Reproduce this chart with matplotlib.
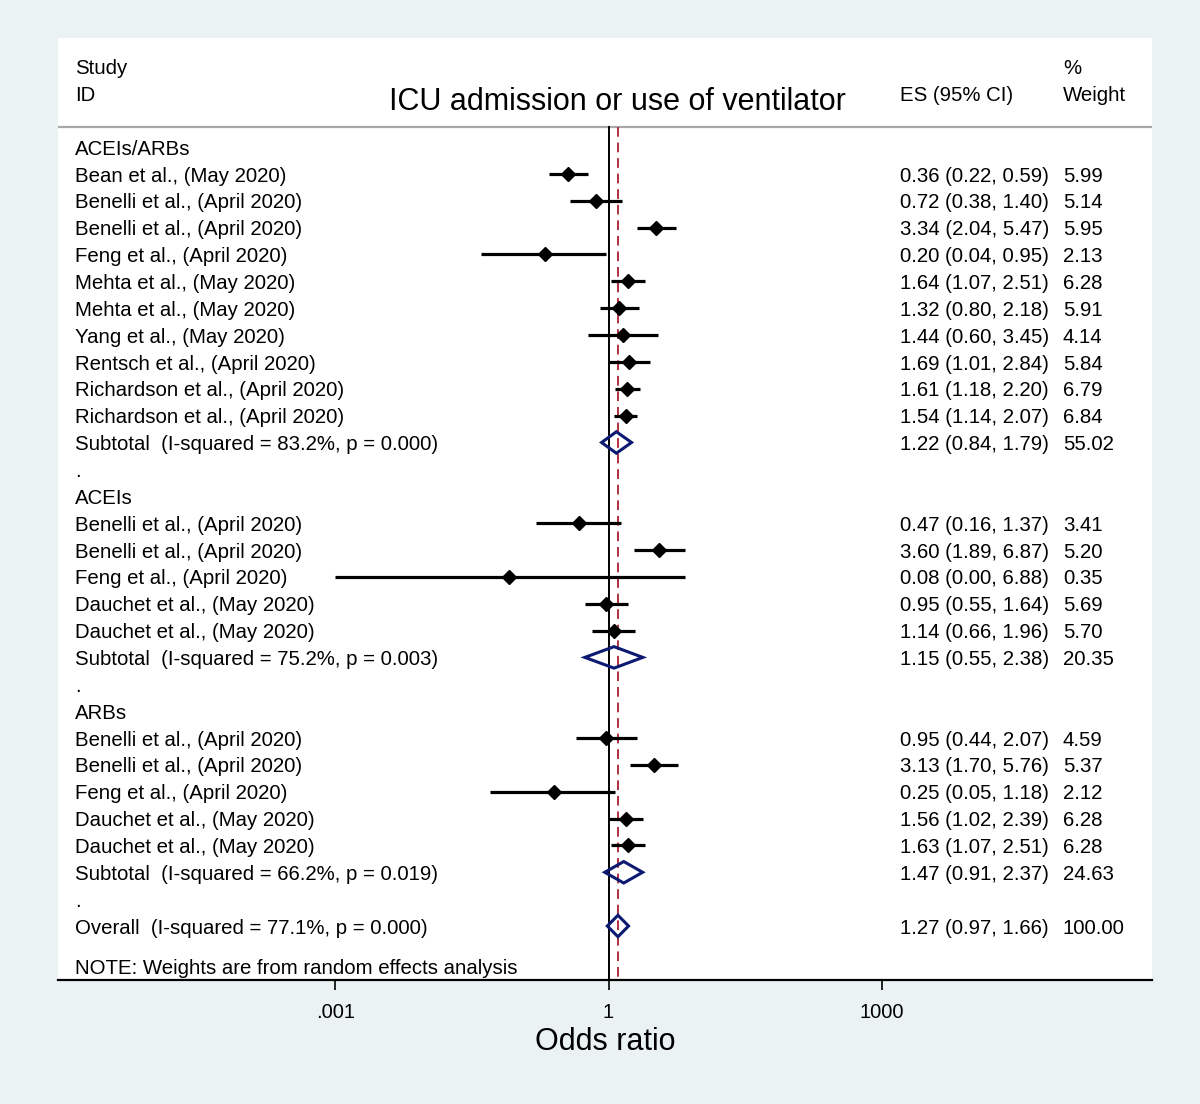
import numpy as np
import matplotlib
matplotlib.use('Agg')
import matplotlib.pyplot as plt

plt.rcParams['font.family'] = ['Liberation Sans', 'DejaVu Sans']

# rows of the forest plot, top to bottom
labels = ['ACEIs/ARBs',
          'Bean et al., (May 2020)', 'Benelli et al., (April 2020)', 'Benelli et al., (April 2020)',
          'Feng et al., (April 2020)', 'Mehta et al., (May 2020)', 'Mehta et al., (May 2020)',
          'Yang et al., (May 2020)', 'Rentsch et al., (April 2020)', 'Richardson et al., (April 2020)',
          'Richardson et al., (April 2020)',
          'Subtotal  (I-squared = 83.2%, p = 0.000)', '.',
          'ACEIs',
          'Benelli et al., (April 2020)', 'Benelli et al., (April 2020)', 'Feng et al., (April 2020)',
          'Dauchet et al., (May 2020)', 'Dauchet et al., (May 2020)',
          'Subtotal  (I-squared = 75.2%, p = 0.003)', '.',
          'ARBs',
          'Benelli et al., (April 2020)', 'Benelli et al., (April 2020)', 'Feng et al., (April 2020)',
          'Dauchet et al., (May 2020)', 'Dauchet et al., (May 2020)',
          'Subtotal  (I-squared = 66.2%, p = 0.019)', '.',
          'Overall  (I-squared = 77.1%, p = 0.000)']
# kind: h = heading, s = study, t = subtotal/overall, b = blank
kind = ['h'] + ['s'] * 10 + ['t', 'b', 'h'] + ['s'] * 5 + ['t', 'b', 'h'] + ['s'] * 5 + ['t', 'b', 't']
es = [None, 0.36, 0.72, 3.34, 0.20, 1.64, 1.32, 1.44, 1.69, 1.61, 1.54, 1.22, None,
      None, 0.47, 3.60, 0.08, 0.95, 1.14, 1.15, None,
      None, 0.95, 3.13, 0.25, 1.56, 1.63, 1.47, None, 1.27]
lo = [None, 0.22, 0.38, 2.04, 0.04, 1.07, 0.80, 0.60, 1.01, 1.18, 1.14, 0.84, None,
      None, 0.16, 1.89, 0.001, 0.55, 0.66, 0.55, None,
      None, 0.44, 1.70, 0.05, 1.02, 1.07, 0.91, None, 0.97]
hi = [None, 0.59, 1.40, 5.47, 0.95, 2.51, 2.18, 3.45, 2.84, 2.20, 2.07, 1.79, None,
      None, 1.37, 6.87, 6.88, 1.64, 1.96, 2.38, None,
      None, 2.07, 5.76, 1.18, 2.39, 2.51, 2.37, None, 1.66]
weight = [None, 5.99, 5.14, 5.95, 2.13, 6.28, 5.91, 4.14, 5.84, 6.79, 6.84, 55.02, None,
          None, 3.41, 5.20, 0.35, 5.69, 5.70, 20.35, None,
          None, 4.59, 5.37, 2.12, 6.28, 6.28, 24.63, None, 100.00]
overall = 1.27

bg = '#eaf2f3'
navy = '#0c1a72'
fs = 14.7
dy = 0.08  # text sits a touch lower than the marks

fig = plt.figure(figsize=(12, 11.04), dpi=100, facecolor=bg)
# panel from x 58..1152 px, y 38..980 px
ax = fig.add_axes([58 / 1200, 1 - 980 / 1104, 1094 / 1200, 942 / 1104])
ax.set_facecolor('white')
ax.set_xscale('log')
ax.set_xlim(10 ** -6.043, 10 ** 5.966)
ax.set_ylim(31.01, -4.058)

for s in ['top', 'left', 'right']:
    ax.spines[s].set_visible(False)
ax.spines['bottom'].set_linewidth(1.6)
ax.set_yticks([])
ax.set_xticks([1e-3, 1, 1e3])
ax.set_xticklabels(['.001', '1', '1000'], fontsize=14.5)
ax.minorticks_off()
ax.tick_params(axis='x', direction='out', length=7.5, width=1.2, pad=9)
ax.set_xlabel('Odds ratio', fontsize=22, labelpad=4)

tr = ax.get_yaxis_transform()
top_line = -0.745
ax.axhline(top_line, color='#a8a8a8', lw=1.6)
ax.plot([1, 1], [top_line, 31.01], color='black', lw=1.4)
ax.plot([overall, overall], [top_line, 31.01], color='#b03040', lw=1.4,
        linestyle=(0, (5, 3)))

# header
ax.text(0.0155, -3 + dy, 'Study', transform=tr, fontsize=fs, va='center')
ax.text(0.0155, -2 + dy, 'ID', transform=tr, fontsize=fs, va='center')
ax.text(0.7697, -2 + dy, 'ES (95% CI)', transform=tr, fontsize=fs, va='center')
ax.text(0.9186, -3 + dy, '%', transform=tr, fontsize=fs, va='center')
ax.text(0.9186, -2 + dy, 'Weight', transform=tr, fontsize=fs, va='center')
ax.text(0.511, -1.75 + dy, 'ICU admission or use of ventilator', transform=tr,
        fontsize=22, ha='center', va='center')

for i, (lab, k) in enumerate(zip(labels, kind)):
    ax.text(0.0155, i + dy, lab, transform=tr, fontsize=fs, va='center')
    if k in ('s', 't'):
        ax.text(0.7697, i + dy, '%.2f (%.2f, %.2f)' % (es[i], lo[i], hi[i]),
                transform=tr, fontsize=fs, va='center')
        ax.text(0.9186, i + dy, '%.2f' % weight[i], transform=tr, fontsize=fs, va='center')
    if k == 's':
        ax.plot([lo[i], hi[i]], [i, i], color='black', lw=2.3, solid_capstyle='butt')
        ax.plot(es[i], i, marker='D', color='black', markersize=7)
    elif k == 't':
        ax.fill([lo[i], es[i], hi[i], es[i]], [i, i - 0.4, i, i + 0.4],
                facecolor='none', edgecolor=navy, lw=2.2, zorder=4)

ax.text(0.0155, 30.5 + dy, 'NOTE: Weights are from random effects analysis', transform=tr,
        fontsize=fs, va='center')

fig.savefig('out.png', dpi=100, facecolor=bg)
